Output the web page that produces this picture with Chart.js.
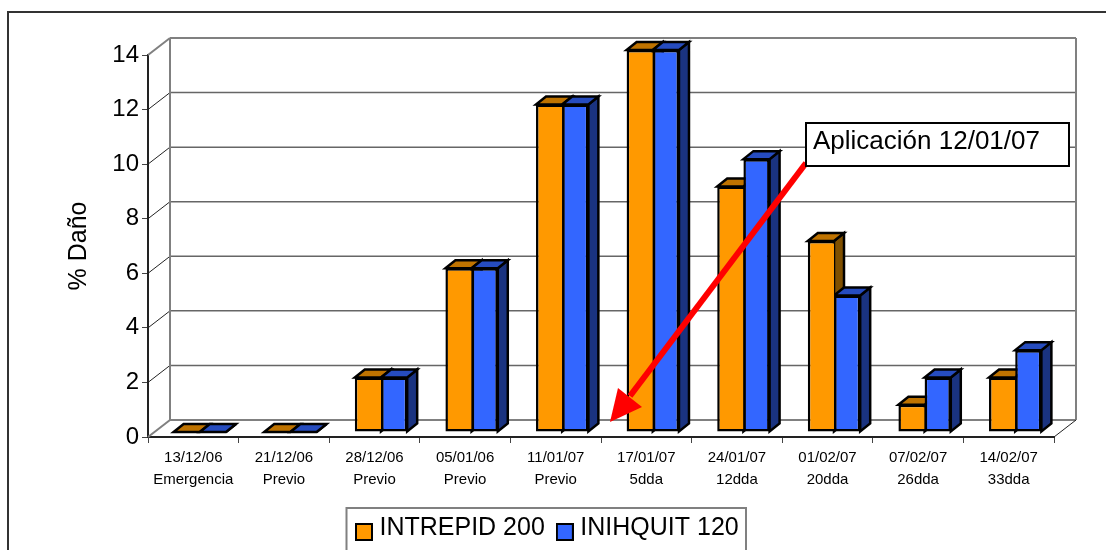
<!DOCTYPE html>
<html><head><meta charset="utf-8">
<style>html,body{margin:0;padding:0;background:#fff;overflow:hidden}#w{width:1106px;height:550px;position:relative}canvas{display:block}</style>
<script src="https://cdn.jsdelivr.net/npm/chart.js@4/dist/chart.umd.js"></script>
</head><body><div id="w"><canvas id="c" width="1106" height="550"></canvas></div>
<script>
const categories = [
  ["13/12/06","Emergencia"],["21/12/06","Previo"],["28/12/06","Previo"],["05/01/06","Previo"],
  ["11/01/07","Previo"],["17/01/07","5dda"],["24/01/07","12dda"],["01/02/07","20dda"],
  ["07/02/07","26dda"],["14/02/07","33dda"]];
const intrepid = [0,0,2,6,12,14,9,7,1,2];
const inihquit = [0,0,2,6,12,14,10,5,2,3];
const seriesNames = ["INTREPID 200","INIHQUIT 120"];
const yTicks = [0,2,4,6,8,10,12,14];
const calloutText = "Aplicación 12/01/07";

const FONT = '"Liberation Sans", Arial, sans-serif';
const WALL = {dx:22, dy:17}, DEPTH = {dx:10, dy:8}, SHIFT = {dx:6.5, dy:-5};
const SHADES = [{top:'#BF7300',side:'#805000'},{top:'#264CBF',side:'#1A3380'}];

function swatch(color){
  const c=document.createElement('canvas'); c.width=18; c.height=26;
  const x=c.getContext('2d');
  x.fillStyle='#000'; x.fillRect(0,8,18,18);
  x.fillStyle=color; x.fillRect(2,10,14,14);
  return c;
}

const scene = {
  id:'scene',
  beforeDatasetsDraw(chart){
    const {ctx,chartArea:a,scales:{y}} = chart;
    const L=a.left,R=a.right,B=a.bottom,T=a.top;
    ctx.save();
    // outer frame
    ctx.strokeStyle='#333'; ctx.lineWidth=2;
    ctx.beginPath(); ctx.moveTo(8,550); ctx.lineTo(8,12); ctx.lineTo(1106,12); ctx.stroke();
    // walls
    yTicks.forEach(v=>{
      const p=y.getPixelForValue(v), edge=(v===0||v===14);
      ctx.strokeStyle=edge?'#808080':'#666'; ctx.lineWidth=edge?2:1.5;
      ctx.beginPath(); ctx.moveTo(L+WALL.dx,p-WALL.dy); ctx.lineTo(R+WALL.dx,p-WALL.dy); ctx.stroke();
      ctx.strokeStyle=edge?'#808080':'#222'; ctx.lineWidth=edge?2:1;
      ctx.beginPath(); ctx.moveTo(L,p); ctx.lineTo(L+WALL.dx,p-WALL.dy); ctx.stroke();
    });
    ctx.strokeStyle='#808080'; ctx.lineWidth=2;
    ctx.beginPath(); ctx.moveTo(L+WALL.dx,T-WALL.dy); ctx.lineTo(L+WALL.dx,B-WALL.dy); ctx.stroke();
    ctx.beginPath(); ctx.moveTo(R+WALL.dx,T-WALL.dy); ctx.lineTo(R+WALL.dx,B-WALL.dy); ctx.stroke();
    ctx.strokeStyle='#222'; ctx.lineWidth=1;
    ctx.beginPath(); ctx.moveTo(R,B); ctx.lineTo(R+WALL.dx,B-WALL.dy); ctx.stroke();
    // bar depth
    ctx.translate(SHIFT.dx,SHIFT.dy);
    ctx.lineWidth=2.5; ctx.strokeStyle='#000'; ctx.lineJoin='miter';
    categories.forEach((_,i)=>{
      [0,1].forEach(d=>{
        const el=chart.getDatasetMeta(d).data[i];
        const w=el.width, l=el.x-w/2, r=el.x+w/2, t=el.y, b=el.base;
        ctx.fillStyle=SHADES[d].side;
        ctx.beginPath(); ctx.moveTo(r,t); ctx.lineTo(r+DEPTH.dx,t-DEPTH.dy); ctx.lineTo(r+DEPTH.dx,b-DEPTH.dy); ctx.lineTo(r,b); ctx.closePath(); ctx.fill(); ctx.stroke();
        ctx.fillStyle=SHADES[d].top;
        ctx.beginPath(); ctx.moveTo(l,t); ctx.lineTo(l+DEPTH.dx,t-DEPTH.dy); ctx.lineTo(r+DEPTH.dx,t-DEPTH.dy); ctx.lineTo(r,t); ctx.closePath(); ctx.fill(); ctx.stroke();
      });
    });
    ctx.restore();
    ctx.save();
    ctx.translate(SHIFT.dx,SHIFT.dy);
  },
  afterDatasetsDraw(chart){
    const {ctx}=chart;
    ctx.restore();
    ctx.save();
    // arrow
    const sx=806,sy=163,tx=610,ty=422;
    ctx.strokeStyle='#FF0000'; ctx.fillStyle='#FF0000'; ctx.lineWidth=6;
    ctx.beginPath(); ctx.moveTo(sx,sy); ctx.lineTo(630,396); ctx.stroke();
    ctx.beginPath(); ctx.moveTo(tx,ty); ctx.lineTo(618,388); ctx.lineTo(642,407); ctx.closePath(); ctx.fill();
    // callout
    ctx.fillStyle='#fff'; ctx.strokeStyle='#000'; ctx.lineWidth=2;
    ctx.fillRect(806,123,263,43); ctx.strokeRect(806,123,263,43);
    ctx.fillStyle='#000'; ctx.font='26px '+FONT; ctx.textBaseline='alphabetic'; ctx.textAlign='left';
    ctx.fillText(calloutText,813,149);
    // legend frame
    ctx.strokeStyle='#808080'; ctx.lineWidth=2;
    ctx.beginPath(); ctx.moveTo(346.5,551); ctx.lineTo(346.5,508); ctx.lineTo(746,508); ctx.lineTo(746,551); ctx.stroke();
    ctx.restore();
  },
  afterLayout(chart){
    const l=chart.legend;
    l.left=344; l.right=344+l.width; l.top=498.5; l.bottom=498.5+l.height;
  }
};

new Chart(document.getElementById('c'),{
  type:'bar',
  data:{labels:categories,datasets:[
    {label:seriesNames[0],data:intrepid,backgroundColor:'#FF9900',borderColor:'#000',
     borderWidth:{left:2.5,top:2.5,bottom:2.5,right:0},borderSkipped:false},
    {label:seriesNames[1],data:inihquit,backgroundColor:'#3366FF',borderColor:'#000',
     borderWidth:2.5,borderSkipped:false}]},
  options:{
    responsive:false,animation:false,devicePixelRatio:1,
    categoryPercentage:0.578,barPercentage:1,
    layout:{padding:{left:0,right:52,top:55,bottom:0}},
    plugins:{
      tooltip:{enabled:false},
      legend:{position:'bottom',align:'start',
        labels:{color:'#000',font:{family:FONT,size:25},usePointStyle:true,pointStyleWidth:6,boxHeight:18,padding:17,
          generateLabels(c){return c.data.datasets.map((d,i)=>({text:d.label,pointStyle:swatch(d.backgroundColor),fillStyle:d.backgroundColor,strokeStyle:'#000',lineWidth:2,datasetIndex:i,hidden:false}));}}}
    },
    scales:{
      x:{afterFit(s){s.height=113-(s.chart.legend?s.chart.legend.height:0);},
        border:{color:'#222',width:2},
        grid:{drawOnChartArea:false,drawTicks:true,tickLength:6,color:'#444',lineWidth:1},
        ticks:{color:'#000',font:{family:FONT,size:15,lineHeight:1.45},maxRotation:0,autoSkip:false,padding:4}},
      y:{min:0,max:14,afterFit(s){s.width=148;},
        afterBuildTicks(s){s.ticks=yTicks.map(v=>({value:v}));},
        border:{color:'#222',width:2},
        grid:{drawOnChartArea:false,drawTicks:true,tickLength:6,color:'#444',lineWidth:1},
        ticks:{color:'#000',font:{family:FONT,size:24},padding:3},
        title:{display:true,text:'% Daño',color:'#000',font:{family:FONT,size:25},padding:{top:64,bottom:0}}}
    }
  },
  plugins:[scene]
});
</script></body></html>
